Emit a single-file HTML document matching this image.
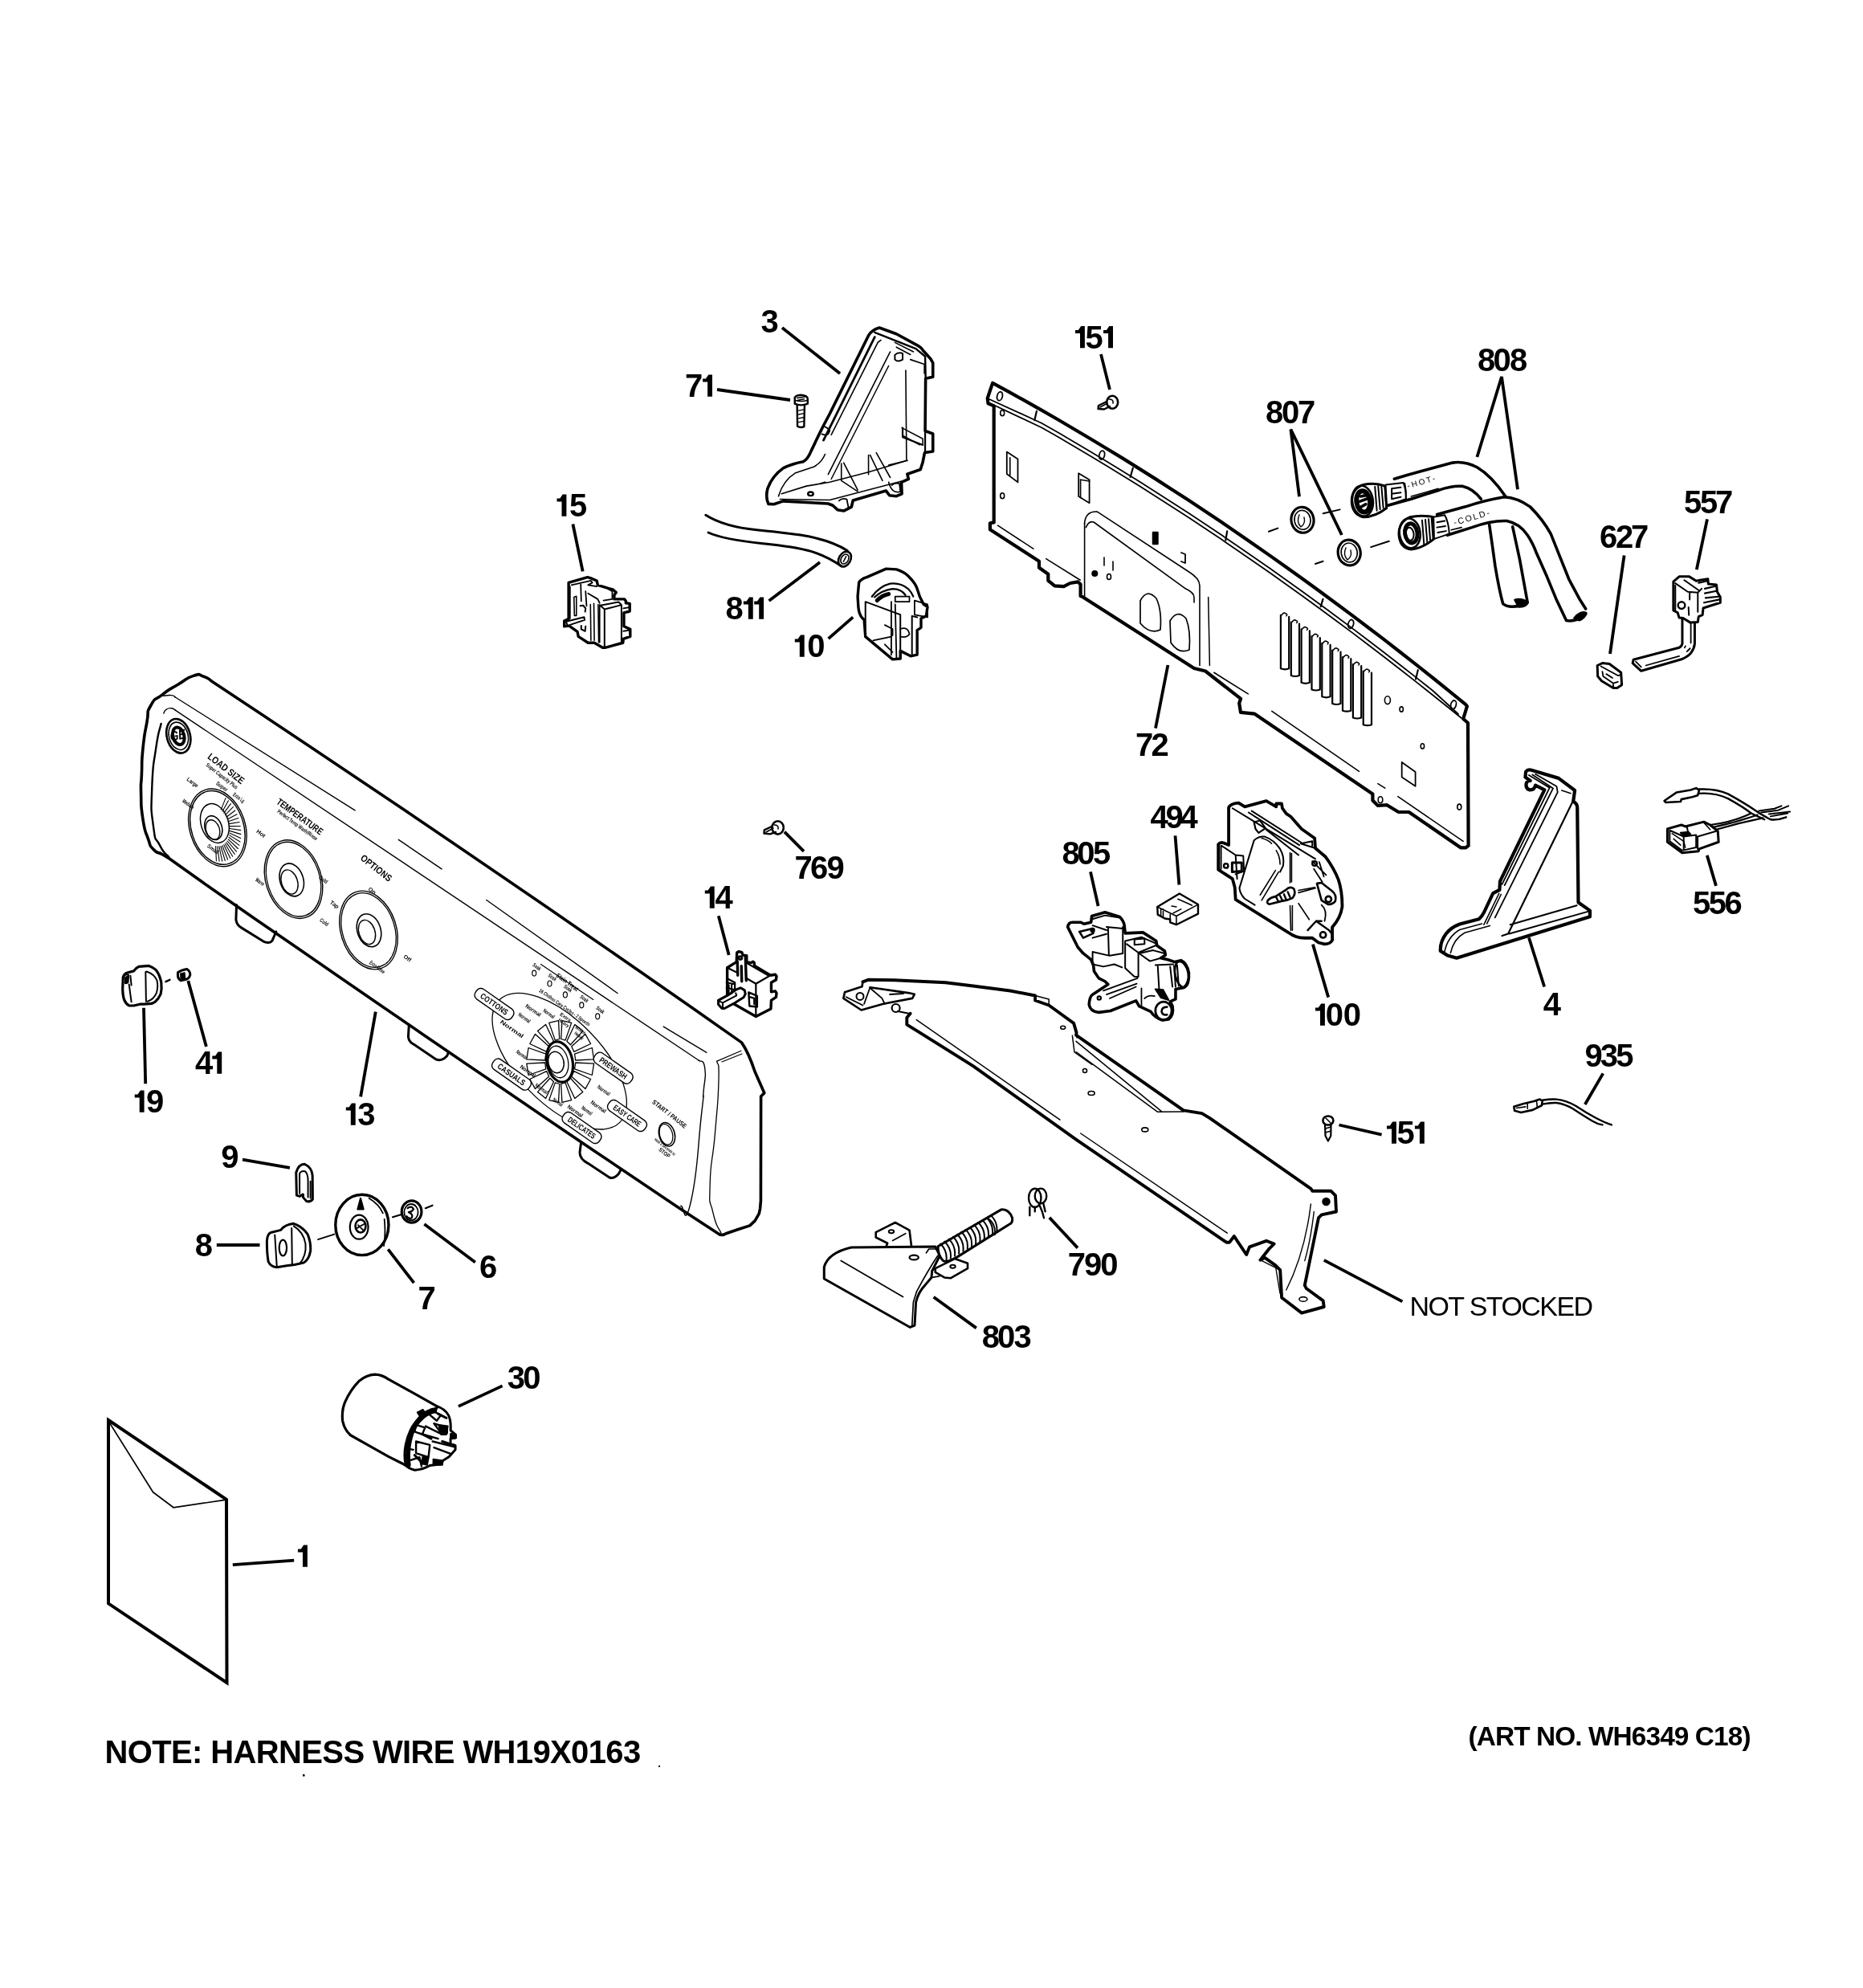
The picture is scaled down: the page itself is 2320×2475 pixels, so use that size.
<!DOCTYPE html>
<html><head><meta charset="utf-8"><style>
html,body{margin:0;padding:0;background:#fff;}
svg{display:block;filter:grayscale(1);}
text{font-family:"Liberation Sans",sans-serif;fill:#000;}
.p path,.p line,.p polyline,.p polygon,.p ellipse,.p circle,.p rect{vector-effect:non-scaling-stroke;}
</style></head><body>
<svg width="2320" height="2475" viewBox="0 0 2320 2475" xmlns="http://www.w3.org/2000/svg">
<rect width="2320" height="2475" fill="#fff"/>
<g class="p" fill="none" stroke="#000" stroke-width="2.5" stroke-linejoin="round" stroke-linecap="round">
<!-- 01_env.svg --><g transform="translate(0 0) scale(1.000000)"><path d="M135,1768 L282,1866.8 L282.5,2095 L135,1996.3 Z" stroke-width="4" stroke-linejoin="miter"/>
<path d="M137.2,1772.6 L190.6,1857.8 L216,1876.8 L280.3,1867.4" stroke-width="1.7"/>
</g>
<!-- 03_bracket.svg --><g transform="translate(840 380) scale(0.193237)"><path d="M605,1280 Q585,1240 600,1180 Q630,1100 700,1050 Q760,1020 830,1008 Q860,990 880,940 L930,835 L960,775 L1000,700 L1250,195 Q1270,160 1320,145 L1430,185 L1545,248 Q1590,270 1600,290 L1650,345 L1665,372 L1665,462 L1618,472 L1615,810 L1665,828 L1665,942 L1612,950 L1600,1010 L1585,1058 L1500,1088 L1508,1120 L1462,1140 L1465,1215 L1430,1230 L1385,1225 L1362,1195 L1150,1258 L1140,1300 L1090,1325 L1050,1318 L1020,1290 L990,1278 L700,1262 L640,1282 Z" stroke-width="3.6"/>
<path d="M1290,205 L1000,790 L960,870" stroke-width="2.8"/>
<path d="M1330,225 Q1320,230 1310,240 L1010,835" stroke-width="1.6"/>
<path d="M1390,300 L990,1090" stroke-width="1.6"/>
<path d="M1380,390 L1010,1120" stroke-width="1.4"/>
<path d="M1290,175 L1555,280 L1615,330 L1618,460" stroke-width="2.4"/>
<path d="M1615,815 L1615,940 M1470,790 L1470,850 L1600,900" stroke-width="2.2"/>
<path d="M1420,240 L1540,300 M1430,270 L1520,318" stroke-width="1.6"/>
<path d="M1420,320 Q1440,300 1470,310 L1470,350 Q1440,370 1420,350 Z" stroke-width="2"/>
<path d="M1490,420 L1495,1000 M1520,350 L1610,380 L1610,440" stroke-width="1.6"/>
<path d="M1465,790 L1600,860 L1600,900 M1470,840 L1580,900" stroke-width="1.6"/>
<path d="M670,1230 Q700,1130 780,1080 L900,1040 Q950,1010 970,960" stroke-width="1.6"/>
<path d="M690,1215 L850,1165 L1000,1140 L1250,1075 L1500,1000" stroke-width="1.6"/>
<path d="M680,1250 L1000,1255 L1460,1135" stroke-width="1.6"/>
<path d="M1075,1020 L1075,1130 L1180,1200 M1090,1015 L1180,1190" stroke-width="1.6"/>
<path d="M1250,965 L1250,1090 M1260,965 L1340,1130 M1300,950 L1390,1110" stroke-width="1.6"/>
<path d="M1380,1030 L1500,1000 M1380,1140 Q1400,1220 1460,1200" stroke-width="1.6"/>
<path d="M1060,1260 Q1080,1240 1110,1250 L1120,1300 M1400,1160 Q1420,1140 1450,1150 L1455,1200" stroke-width="1.8"/>
<ellipse cx="877" cy="1215" rx="17" ry="12" stroke-width="2.4"/>
<path d="M940,1150 L970,1140 M960,780 Q990,790 1000,810 L990,830 Q970,840 950,830" stroke-width="1.8"/>
</g>
<!-- 04_bracket.svg --><g transform="translate(1780 950) scale(0.125755)"><path d="M955,85 Q975,60 1010,70 L1280,150 L1440,270 L1425,380 Q1465,400 1465,440 L1475,1380 L1590,1460 L1590,1520 L270,1930 L180,1905 L110,1860 Q105,1770 165,1690 Q210,1630 300,1595 L490,1545 Q520,1520 540,1480 L630,1290 L695,1255 L700,1170 L1140,265 L1050,220 Q1040,270 990,265 Q950,250 960,200 Q970,170 1000,175 L950,140 Z" stroke-width="4.2"/>
<path d="M985,120 L1190,245 L720,1200 M1020,115 L1225,250 L745,1210 M1050,110 L1260,230 L1270,290 L650,1530" stroke-width="1.8"/>
<path d="M690,1290 L540,1600 M710,1300 L570,1590" stroke-width="1.6"/>
<path d="M1420,380 L780,1690 L720,1710" stroke-width="2.2"/>
<path d="M800,1600 L1460,1410 M790,1690 L1570,1470" stroke-width="2"/>
<path d="M150,1870 Q180,1720 300,1650 L520,1590 M210,1880 Q240,1740 350,1680 L600,1610" stroke-width="1.6"/>
<path d="M1310,270 L1400,300" stroke-width="1.6"/>
</g>
<!-- 100_timer.svg --><g transform="translate(1510 990) scale(0.095557)"><path d="M210,160 Q230,110 340,100 L420,150 L700,75 L830,150 L830,110 L900,110 L910,170 L960,240 L1020,280 L1160,440 L1330,560 L1340,690 L1470,800 Q1580,950 1640,1100 Q1690,1250 1690,1450 Q1670,1600 1560,1720 L1560,1890 Q1530,1940 1460,1940 L1380,1920 L1300,1860 L1200,1860 Q1080,1860 990,1790 L300,1360 L290,1200 L260,1090 L75,970 L75,640 Q100,610 140,620 L210,650 Z" stroke-width="3.8"/>
<path d="M260,170 L1340,830 M470,225 L1130,650 M510,205 L1160,620 M700,450 L1120,780" stroke-width="2"/>
<path d="M120,660 L300,780 L400,790 L410,990 L300,1030 M300,780 L320,1090 M110,660 L110,960" stroke-width="2"/>
<path d="M255,880 L255,1000 L380,990 L380,880 Z" stroke-width="3"/>
<circle cx="175" cy="920" r="28" stroke-width="2.4"/>
<path d="M540,590 Q600,530 680,540 Q800,580 880,700 Q940,800 920,920 L880,1000 M540,590 L350,1210 Q360,1290 420,1350 L550,1430" stroke-width="2"/>
<path d="M640,560 Q720,580 770,630 M830,720 Q880,800 880,900 M820,980 L620,1300 M860,1000 L640,1370" stroke-width="1.6"/>
<path d="M1150,630 L1340,690 M1150,630 L1300,600 L1300,660" stroke-width="2"/>
<path d="M720,1370 Q760,1330 820,1320 L960,1230 Q1010,1180 1060,1220 Q1090,1290 1040,1340 Q980,1370 900,1380 L740,1420 Q700,1410 720,1370 Z" stroke-width="2.6"/>
<path d="M830,1330 L860,1390 M880,1310 L910,1370 M930,1290 L960,1360 M980,1260 L1010,1330" stroke-width="2.4"/>
<path d="M1120,1270 L1340,1210 M1120,1240 L1330,1200 M1010,750 L1010,1140 M1030,760 L1030,1130 M1010,1440 L1020,1760 M1040,1440 L1040,1760 M1120,1410 L1260,1620" stroke-width="1.6"/>
<path d="M1360,1150 L1420,1140 L1560,1250 Q1620,1300 1600,1380 Q1560,1430 1500,1420 L1420,1370 Z" stroke-width="2.6"/>
<circle cx="1510" cy="1355" r="38" stroke-width="2.6"/>
<path d="M1240,1760 L1350,1640 L1520,1760 L1550,1800 M1350,1640 L1420,1640" stroke-width="2.4"/>
<circle cx="1440" cy="1820" r="38" stroke-width="2.6"/>
<path d="M1300,860 L1480,1040 M1390,870 L1450,1060 M1320,960 L1430,1130" stroke-width="1.8"/>
<circle cx="1330" cy="890" r="30" stroke-width="2.4"/>
<path d="M540,350 L620,330 L690,430 L600,490 L560,440 Z" stroke-width="2.2"/>
<path d="M1420,1430 Q1500,1500 1460,1640" stroke-width="1.8"/>
</g>
<!-- 10_pswitch.svg --><g transform="translate(870 630) scale(0.161031)"><path d="M1240,590 Q1260,560 1300,550 L1450,485 L1530,490 Q1590,510 1620,540 Q1680,600 1690,640 L1710,700 L1740,760 L1770,780 L1760,850 L1720,870 L1720,940 L1690,960 L1690,1150 L1640,1160 L1560,1120 L1560,1180 L1500,1185 L1290,1010 L1280,880 Q1240,850 1235,780 L1230,700 Z" stroke-width="3.4"/>
<path d="M1290,740 L1560,840 L1560,1180 M1290,740 L1290,1000 M1650,850 L1690,860 M1650,850 L1650,1160" stroke-width="2"/>
<path d="M1340,700 Q1400,620 1480,600 Q1560,590 1620,640 Q1650,670 1660,700 M1360,705 Q1420,650 1500,640 Q1570,640 1600,690" stroke-width="2.2"/>
<path d="M1380,730 Q1420,690 1470,680" stroke-width="5"/>
<path d="M1520,700 L1630,700 L1630,740 L1520,740 Z M1670,730 L1770,760 L1770,860 L1670,840 Z M1490,740 L1490,1150 M1520,760 L1530,1170" stroke-width="1.8"/>
<path d="M1440,920 L1500,950 L1500,1000 M1560,950 Q1620,930 1630,990 Q1610,1020 1560,1010 M1350,1040 L1490,1010 M1440,1070 L1500,1130" stroke-width="1.8"/>
</g>
<!-- 13_ctrl.svg --><g transform="translate(0 0) scale(1.000000)"><path d="M210.3,1068.5 C207.6,1066.9 208.7,1067.5 202.2,1063.7 C195.7,1059.9 196.8,1063.7 190.9,1057.2 C185.0,1050.7 188.8,1056.6 184.5,1044.3 C180.2,1032.0 181.0,1039.0 178.0,1020.2 C175.0,1001.4 176.1,1006.8 175.6,988.0 C175.1,969.2 175.6,982.6 176.4,963.8 C177.2,945.0 175.8,953.1 178.0,931.6 C180.2,910.1 179.7,917.1 182.9,899.4 C186.1,881.7 181.3,890.0 187.7,878.5 C194.1,867.0 190.8,873.6 202.2,864.8 C213.6,856.0 209.1,859.8 222.0,852.0 C234.9,844.2 230.3,844.7 240.9,841.4 C251.5,838.1 246.2,840.0 253.7,842.2 C261.2,844.4 260.2,846.0 263.4,847.9 L323.4,887.7 L383.4,927.7 L443.4,967.9 L503.4,1008.3 L563.4,1049.0 L623.5,1089.9 L683.5,1131.0 L743.5,1172.4 L803.5,1214.0 L863.5,1255.8 L923.5,1297.9 Q932,1310 940,1334 L951.8,1360.8 L947.6,1365.1 L947.4,1495 L946.6,1504.5 L945.3,1510.9 L940.1,1519.9 L933.7,1525.9 L918.6,1530.7 L904,1535.8 L900.2,1537.5 L896.3,1537.1 L843.5,1502.5 L790.8,1467.0 L738.0,1431.4 L685.2,1395.7 L632.5,1359.8 L579.7,1323.9 L526.9,1287.9 L474.1,1251.7 L421.4,1215.5 L368.6,1179.1 L315.8,1142.7 L263.1,1106.1 Z" stroke-width="3.6"/>
<path d="M200.6,901.0 C198.5,911.2 198.0,905.3 194.2,931.6 C190.4,957.9 190.4,947.7 189.3,979.9 C188.2,1012.1 187.7,1004.0 190.9,1028.2 C194.1,1052.4 192.5,1039.5 199.0,1052.4 C205.5,1065.3 206.5,1062.1 210.3,1066.9" stroke-width="2.4"/>
<path d="M203.0,866.4 C206.5,866.1 208.4,865.1 213.5,865.6 C218.6,866.1 216.7,867.2 218.3,868.0" stroke-width="1.4"/><path d="M218.3,868.0 L442.1,1008.9" stroke-width="1.4"/>
<path d="M496.3,1045.4 L550.0,1081.9" stroke-width="1.4"/>
<path d="M605.8,1120.5 L769.0,1236.5" stroke-width="1.4"/>
<path d="M826.2,1278.1 L879.9,1310.4" stroke-width="1.4"/>
<path d="M203.8,888.1 C204.9,886.5 203.8,885.4 207.0,883.3 C210.2,881.2 209.7,881.4 213.5,881.7 C217.3,882.0 216.7,883.3 218.3,884.1" stroke-width="1.4"/><path d="M218.3,884.1 L870.0,1320.0" stroke-width="1.4"/>
<path d="M870.0,1320.0 C872.6,1323.3 875.8,1316.7 877.8,1330.0 C879.8,1343.3 877.4,1340.8 876.0,1360.0 C874.6,1379.2 878.6,1342.7 873.5,1387.7 C868.4,1432.7 869.2,1457.1 860.6,1495.0 C852.0,1532.9 852.0,1499.3 847.7,1501.4" stroke-width="1.4"/>
<path d="M892.8,1321.1 C893.5,1329.0 895.7,1315.4 895.0,1344.7 C894.3,1374.0 894.2,1366.2 890.6,1409.1 C887.0,1452.0 885.1,1439.9 884.2,1473.5 C883.3,1507.1 883.3,1489.2 888.0,1510.0 C892.7,1530.8 894.8,1527.2 898.2,1535.8" stroke-width="1.3"/>
<path d="M892.8,1321.1 L922.9,1308.2" stroke-width="1.2"/><path d="M899.0,1322.0 L924.0,1312.0" stroke-width="1.2"/>
<path d="M294.5,1126.5 L293.9,1145.3 Q295,1152 300.4,1154.9 L329.3,1172.7 Q336,1175 339,1171.1 L343.8,1160" stroke-width="3"/>
<path d="M509.3,1275.9 L508.4,1290.9 Q509,1297 515.1,1300.1 L543.1,1318.9 Q550,1322 556.7,1314.6 L558.6,1309.8" stroke-width="3"/>
<path d="M723.6,1422.5 L722,1434.9 Q722,1443 732.2,1448.3 L759,1466 Q765,1468 770.9,1460.7 L773.5,1455.3" stroke-width="3"/>
<ellipse cx="222.3" cy="916.3" rx="14.5" ry="21.7" transform="rotate(-15 222.3 916.3)" stroke-width="2.6"/>
<ellipse cx="222.3" cy="916.3" rx="11.8" ry="17.5" transform="rotate(-15 222.3 916.3)" stroke-width="1.6"/>
<ellipse cx="222.3" cy="916.3" rx="7.0" ry="11.0" transform="rotate(-15 222.3 916.3)" stroke-width="4"/>
<text transform="translate(222.3 921) rotate(-10) scale(0.8 1)" text-anchor="middle" font-size="17" font-weight="bold" font-style="italic" stroke="none" fill="#000">GE</text>
<ellipse cx="270.9" cy="1030.4" rx="34.5" ry="49.5" transform="rotate(-18 270.9 1030.4)" stroke-width="1.4"/>
<ellipse cx="270.9" cy="1030.4" rx="32.5" ry="47.0" transform="rotate(-18 270.9 1030.4)" stroke-width="1.4"/>
<ellipse cx="267.4" cy="1025.0" rx="17.0" ry="25.0" transform="rotate(-18 267.4 1025.0)" stroke-width="1.5"/>
<ellipse cx="265.8" cy="1030.6" rx="10.5" ry="15.3" transform="rotate(-18 265.8 1030.6)" stroke-width="1.6"/>
<ellipse cx="265.0" cy="1033.0" rx="8.4" ry="12.6" transform="rotate(-18 265.0 1033.0)" stroke-width="1.4"/>
<path d="M275.2,1008.1 L281.0,993.6 M277.1,1010.1 L284.4,996.8 M278.9,1012.2 L287.4,1000.6 M280.5,1014.6 L290.3,1004.6 M282.0,1017.2 L292.8,1009.0 M283.3,1019.9 L295.0,1013.7 M284.3,1022.7 L296.8,1018.5 M285.2,1025.6 L298.2,1023.5 M285.8,1028.6 L299.2,1028.5 M286.1,1031.5 L299.8,1033.6 M286.2,1034.4 L300.0,1038.6 M286.1,1037.2 L299.7,1043.4 M285.7,1039.9 L299.0,1048.0 M285.1,1042.5 L297.9,1052.4 M284.2,1044.8 L296.4,1056.5 M283.1,1047.0 L294.5,1060.2 M281.8,1048.9 L292.2,1063.4 M280.3,1050.5 L289.7,1066.2 M278.7,1051.8 L286.8,1068.5 M276.8,1052.8 L283.6,1070.3 M274.9,1053.5 L280.3,1071.5 M272.9,1053.9 L276.7,1072.1 M270.8,1053.9 L273.1,1072.2 M268.6,1053.6 L269.4,1071.7" stroke-width="1.1"/>
<ellipse cx="365.5" cy="1094.6" rx="34.5" ry="50.0" transform="rotate(-18 365.5 1094.6)" stroke-width="1.4"/>
<ellipse cx="365.5" cy="1094.6" rx="32.5" ry="47.5" transform="rotate(-18 365.5 1094.6)" stroke-width="1.3"/>
<ellipse cx="363.2" cy="1095.4" rx="14.5" ry="21.0" transform="rotate(-18 363.2 1095.4)" stroke-width="1.6"/>
<ellipse cx="360.5" cy="1098.0" rx="10.0" ry="15.5" transform="rotate(-18 360.5 1098.0)" stroke-width="1.4"/>
<ellipse cx="459.0" cy="1158.0" rx="34.5" ry="50.0" transform="rotate(-18 459.0 1158.0)" stroke-width="1.4"/>
<ellipse cx="459.0" cy="1158.0" rx="32.5" ry="47.5" transform="rotate(-18 459.0 1158.0)" stroke-width="1.3"/>
<ellipse cx="459.5" cy="1158.2" rx="14.5" ry="21.0" transform="rotate(-18 459.5 1158.2)" stroke-width="1.6"/>
<ellipse cx="457.0" cy="1160.5" rx="10.0" ry="15.5" transform="rotate(-18 457.0 1160.5)" stroke-width="1.4"/>
<ellipse cx="696.7" cy="1321.2" rx="107.0" ry="52.4" transform="rotate(45.6 696.7 1321.2)" stroke-width="1.3"/>
<path d="M716.7,1323.0 L739.6,1324.2 L737.3,1338.5 L715.6,1330.8Z M714.8,1333.6 L735.6,1343.5 L728.9,1355.6 L711.8,1340.2Z M710.4,1342.3 L725.8,1359.4 L715.8,1367.5 L705.9,1346.8Z M704.0,1347.9 L711.7,1369.6 L699.9,1372.4 L698.7,1349.5Z M696.7,1349.5 L695.5,1372.4 L683.7,1369.6 L691.4,1347.9Z M689.5,1346.8 L679.6,1367.5 L669.6,1359.4 L685.0,1342.3Z M683.6,1340.2 L666.5,1355.6 L659.8,1343.5 L680.6,1333.6Z M679.8,1330.8 L658.1,1338.5 L655.8,1324.2 L678.7,1323.0Z M678.7,1320.0 L655.8,1318.8 L658.1,1304.5 L679.8,1312.2Z M680.6,1309.4 L659.8,1299.5 L666.5,1287.4 L683.6,1302.8Z M685.0,1300.7 L669.6,1283.6 L679.6,1275.5 L689.5,1296.2Z M691.4,1295.1 L683.7,1273.4 L695.5,1270.6 L696.7,1293.5Z M698.7,1293.5 L699.9,1270.6 L711.7,1273.4 L704.0,1295.1Z M705.9,1296.2 L715.8,1275.5 L725.8,1283.6 L710.4,1300.7Z M711.8,1302.8 L728.9,1287.4 L735.6,1299.5 L714.8,1309.4Z M715.6,1312.2 L737.3,1304.5 L739.6,1318.8 L716.7,1320.0Z" stroke-width="1.3"/>
<ellipse cx="697.0" cy="1322.0" rx="16.0" ry="25.5" transform="rotate(-12 697.0 1322.0)" stroke-width="3.2"/>
<ellipse cx="695.0" cy="1322.0" rx="12.5" ry="20.0" transform="rotate(-12 695.0 1322.0)" stroke-width="1.3"/>
<ellipse cx="692.4" cy="1322.5" rx="9.7" ry="13.4" transform="rotate(-12 692.4 1322.5)" stroke-width="1.5"/>
<g transform="translate(615.5 1250) rotate(35)"><rect x="-27.5" y="-7.5" width="55" height="15" rx="6.0" stroke-width="1.4" fill="#fff"/><text x="0" y="3.5" text-anchor="middle" font-size="10" font-weight="bold" stroke="none" fill="#000" textLength="39.6" lengthAdjust="spacingAndGlyphs">COTTONS</text></g>
<g transform="translate(637 1337.6) rotate(35)"><rect x="-27.5" y="-7.5" width="55" height="15" rx="6.0" stroke-width="1.4" fill="#fff"/><text x="0" y="3.5" text-anchor="middle" font-size="10" font-weight="bold" stroke="none" fill="#000" textLength="39.6" lengthAdjust="spacingAndGlyphs">CASUALS</text></g>
<g transform="translate(724.5 1404) rotate(35)"><rect x="-27.5" y="-7.5" width="55" height="15" rx="6.0" stroke-width="1.4" fill="#fff"/><text x="0" y="3.5" text-anchor="middle" font-size="10" font-weight="bold" stroke="none" fill="#000" textLength="39.6" lengthAdjust="spacingAndGlyphs">DELICATES</text></g>
<g transform="translate(763.7 1329.7) rotate(35)"><rect x="-27.5" y="-7.5" width="55" height="15" rx="6.0" stroke-width="1.4" fill="#fff"/><text x="0" y="3.5" text-anchor="middle" font-size="10" font-weight="bold" stroke="none" fill="#000" textLength="39.6" lengthAdjust="spacingAndGlyphs">PREWASH</text></g>
<g transform="translate(781 1389) rotate(35)"><rect x="-27.5" y="-7.5" width="55" height="15" rx="6.0" stroke-width="1.4" fill="#fff"/><text x="0" y="3.5" text-anchor="middle" font-size="10" font-weight="bold" stroke="none" fill="#000" textLength="39.6" lengthAdjust="spacingAndGlyphs">EASY CARE</text></g>
<ellipse cx="830.5" cy="1412.3" rx="9.7" ry="15.0" transform="rotate(-15 830.5 1412.3)" stroke-width="1.6"/>
<ellipse cx="829.5" cy="1412.3" rx="8.0" ry="13.0" transform="rotate(-15 829.5 1412.3)" stroke-width="1.2"/>
<ellipse cx="665.2" cy="1211.6" rx="2.5" ry="3.5" transform="rotate(0 665.2 1211.6)" stroke-width="1.2"/>
<ellipse cx="684.5" cy="1224.5" rx="2.5" ry="3.5" transform="rotate(0 684.5 1224.5)" stroke-width="1.2"/>
<ellipse cx="703.9" cy="1238.4" rx="2.5" ry="3.5" transform="rotate(0 703.9 1238.4)" stroke-width="1.2"/>
<ellipse cx="724.3" cy="1251.3" rx="2.5" ry="3.5" transform="rotate(0 724.3 1251.3)" stroke-width="1.2"/>
<ellipse cx="744.2" cy="1265.3" rx="2.5" ry="3.5" transform="rotate(0 744.2 1265.3)" stroke-width="1.2"/>
<path d="M673.5,1200.6 L738.8,1244.4" stroke-width="1.2"/>
<text transform="translate(279 960) rotate(38)" x="0" y="0" text-anchor="middle" font-size="12" font-weight="bold" stroke="none" fill="#000" textLength="54" lengthAdjust="spacingAndGlyphs">LOAD SIZE</text>
<text transform="translate(275 968) rotate(38)" x="0" y="0" text-anchor="middle" font-size="7" font-weight="bold" stroke="none" fill="#000" textLength="48" lengthAdjust="spacingAndGlyphs">Super Capacity Plus</text>
<text transform="translate(371 1020) rotate(36)" x="0" y="0" text-anchor="middle" font-size="12" font-weight="bold" stroke="none" fill="#000" textLength="68" lengthAdjust="spacingAndGlyphs">TEMPERATURE</text>
<text transform="translate(369 1029) rotate(36)" x="0" y="0" text-anchor="middle" font-size="7" font-weight="bold" stroke="none" fill="#000" textLength="60" lengthAdjust="spacingAndGlyphs">Perfect Temp Wash/Rinse</text>
<text transform="translate(466 1084) rotate(38)" x="0" y="0" text-anchor="middle" font-size="12" font-weight="bold" stroke="none" fill="#000" textLength="46" lengthAdjust="spacingAndGlyphs">OPTIONS</text>
<text transform="translate(832 1389) rotate(38)" x="0" y="0" text-anchor="middle" font-size="8" font-weight="bold" stroke="none" fill="#000" textLength="52" lengthAdjust="spacingAndGlyphs">START / PAUSE</text>
<text transform="translate(826 1437) rotate(38)" x="0" y="0" text-anchor="middle" font-size="7" font-weight="bold" stroke="none" fill="#000" textLength="16" lengthAdjust="spacingAndGlyphs">STOP</text>
<text transform="translate(827 1429) rotate(38)" x="0" y="0" text-anchor="middle" font-size="5" font-weight="bold" stroke="none" fill="#000" textLength="32" lengthAdjust="spacingAndGlyphs">Hold 3 Seconds to</text>
<text transform="translate(238.5 976) rotate(36)" x="0" y="0" text-anchor="middle" font-size="7" font-weight="bold" stroke="none" fill="#000" textLength="16" lengthAdjust="spacingAndGlyphs">Large</text>
<text transform="translate(275 981) rotate(36)" x="0" y="0" text-anchor="middle" font-size="7" font-weight="bold" stroke="none" fill="#000" textLength="16" lengthAdjust="spacingAndGlyphs">Super</text>
<text transform="translate(296 995) rotate(36)" x="0" y="0" text-anchor="middle" font-size="7" font-weight="bold" stroke="none" fill="#000" textLength="16" lengthAdjust="spacingAndGlyphs">Extra Lg</text>
<text transform="translate(233 1003) rotate(36)" x="0" y="0" text-anchor="middle" font-size="7" font-weight="bold" stroke="none" fill="#000" textLength="16" lengthAdjust="spacingAndGlyphs">Medium</text>
<text transform="translate(264 1059) rotate(36)" x="0" y="0" text-anchor="middle" font-size="7" font-weight="bold" stroke="none" fill="#000" textLength="16" lengthAdjust="spacingAndGlyphs">Small</text>
<text transform="translate(323.6 1039.6) rotate(36)" x="0" y="0" text-anchor="middle" font-size="7" font-weight="bold" stroke="none" fill="#000" textLength="12" lengthAdjust="spacingAndGlyphs">Hot</text>
<text transform="translate(322.3 1099.7) rotate(36)" x="0" y="0" text-anchor="middle" font-size="7" font-weight="bold" stroke="none" fill="#000" textLength="12" lengthAdjust="spacingAndGlyphs">Warm</text>
<text transform="translate(401.3 1097) rotate(36)" x="0" y="0" text-anchor="middle" font-size="7" font-weight="bold" stroke="none" fill="#000" textLength="12" lengthAdjust="spacingAndGlyphs">Cold</text>
<text transform="translate(415.2 1128) rotate(36)" x="0" y="0" text-anchor="middle" font-size="7" font-weight="bold" stroke="none" fill="#000" textLength="12" lengthAdjust="spacingAndGlyphs">Tap</text>
<text transform="translate(402.3 1150) rotate(36)" x="0" y="0" text-anchor="middle" font-size="7" font-weight="bold" stroke="none" fill="#000" textLength="12" lengthAdjust="spacingAndGlyphs">Cold</text>
<text transform="translate(462 1111) rotate(36)" x="0" y="0" text-anchor="middle" font-size="7" font-weight="bold" stroke="none" fill="#000" textLength="10" lengthAdjust="spacingAndGlyphs">On</text>
<text transform="translate(506 1195) rotate(36)" x="0" y="0" text-anchor="middle" font-size="7" font-weight="bold" stroke="none" fill="#000" textLength="10" lengthAdjust="spacingAndGlyphs">Off</text>
<text transform="translate(468.4 1206) rotate(36)" x="0" y="0" text-anchor="middle" font-size="7" font-weight="bold" stroke="none" fill="#000" textLength="22" lengthAdjust="spacingAndGlyphs">Extra Rinse</text>
<text transform="translate(662.8 1259.8) rotate(35)" x="0" y="0" text-anchor="middle" font-size="7" font-weight="bold" stroke="none" fill="#000" textLength="22" lengthAdjust="spacingAndGlyphs">Normal</text>
<text transform="translate(651.7 1269.2) rotate(35)" x="0" y="0" text-anchor="middle" font-size="7" font-weight="bold" stroke="none" fill="#000" textLength="17" lengthAdjust="spacingAndGlyphs">Normal</text>
<text transform="translate(682.3 1263.9) rotate(35)" x="0" y="0" text-anchor="middle" font-size="7" font-weight="bold" stroke="none" fill="#000" textLength="16" lengthAdjust="spacingAndGlyphs">Normal</text>
<text transform="translate(636.2 1282.9) rotate(35)" x="0" y="0" text-anchor="middle" font-size="7" font-weight="bold" stroke="none" fill="#000" textLength="34" lengthAdjust="spacingAndGlyphs">Normal</text>
<text transform="translate(648.3 1314.9) rotate(35)" x="0" y="0" text-anchor="middle" font-size="7" font-weight="bold" stroke="none" fill="#000" textLength="15" lengthAdjust="spacingAndGlyphs">Normal</text>
<text transform="translate(656 1335.5) rotate(35)" x="0" y="0" text-anchor="middle" font-size="7" font-weight="bold" stroke="none" fill="#000" textLength="22" lengthAdjust="spacingAndGlyphs">Normal</text>
<text transform="translate(673 1357.3) rotate(35)" x="0" y="0" text-anchor="middle" font-size="7" font-weight="bold" stroke="none" fill="#000" textLength="18" lengthAdjust="spacingAndGlyphs">Normal</text>
<text transform="translate(693.4 1373.9) rotate(35)" x="0" y="0" text-anchor="middle" font-size="7" font-weight="bold" stroke="none" fill="#000" textLength="14" lengthAdjust="spacingAndGlyphs">Normal</text>
<text transform="translate(714.9 1385.2) rotate(35)" x="0" y="0" text-anchor="middle" font-size="7" font-weight="bold" stroke="none" fill="#000" textLength="22" lengthAdjust="spacingAndGlyphs">Normal</text>
<text transform="translate(729.6 1384.6) rotate(35)" x="0" y="0" text-anchor="middle" font-size="7" font-weight="bold" stroke="none" fill="#000" textLength="15" lengthAdjust="spacingAndGlyphs">Normal</text>
<text transform="translate(743.9 1379.8) rotate(35)" x="0" y="0" text-anchor="middle" font-size="7" font-weight="bold" stroke="none" fill="#000" textLength="22" lengthAdjust="spacingAndGlyphs">Normal</text>
<text transform="translate(750.5 1359.4) rotate(35)" x="0" y="0" text-anchor="middle" font-size="7" font-weight="bold" stroke="none" fill="#000" textLength="18" lengthAdjust="spacingAndGlyphs">Normal</text>
<text transform="translate(703 1268) rotate(35)" x="0" y="0" text-anchor="middle" font-size="6" font-weight="bold" stroke="none" fill="#000" textLength="15" lengthAdjust="spacingAndGlyphs">Extra</text>
<text transform="translate(701 1275) rotate(35)" x="0" y="0" text-anchor="middle" font-size="6" font-weight="bold" stroke="none" fill="#000" textLength="15" lengthAdjust="spacingAndGlyphs">Heavy</text>
<text transform="translate(721.8 1284) rotate(35)" x="0" y="0" text-anchor="middle" font-size="6" font-weight="bold" stroke="none" fill="#000" textLength="15" lengthAdjust="spacingAndGlyphs">Whites</text>
<text transform="translate(720 1291) rotate(35)" x="0" y="0" text-anchor="middle" font-size="6" font-weight="bold" stroke="none" fill="#000" textLength="13" lengthAdjust="spacingAndGlyphs">Heavy</text>
<text transform="translate(702 1256) rotate(35)" x="0" y="0" text-anchor="middle" font-size="6.5" font-weight="bold" stroke="none" fill="#000" textLength="76" lengthAdjust="spacingAndGlyphs">16 Clothes Care Cycles - 2 Speeds</text>
<text transform="translate(667.2 1205.6) rotate(36)" x="0" y="0" text-anchor="middle" font-size="7" font-weight="bold" stroke="none" fill="#000" textLength="11" lengthAdjust="spacingAndGlyphs">Soak</text>
<text transform="translate(686.5 1218.5) rotate(36)" x="0" y="0" text-anchor="middle" font-size="7" font-weight="bold" stroke="none" fill="#000" textLength="11" lengthAdjust="spacingAndGlyphs">Soak</text>
<text transform="translate(705.9 1232.4) rotate(36)" x="0" y="0" text-anchor="middle" font-size="7" font-weight="bold" stroke="none" fill="#000" textLength="11" lengthAdjust="spacingAndGlyphs">Soak</text>
<text transform="translate(726.3 1245.3) rotate(36)" x="0" y="0" text-anchor="middle" font-size="7" font-weight="bold" stroke="none" fill="#000" textLength="11" lengthAdjust="spacingAndGlyphs">Soak</text>
<text transform="translate(746.2 1259.3) rotate(36)" x="0" y="0" text-anchor="middle" font-size="7" font-weight="bold" stroke="none" fill="#000" textLength="11" lengthAdjust="spacingAndGlyphs">Soak</text>
<text transform="translate(705 1225) rotate(36)" x="0" y="0" text-anchor="middle" font-size="8" font-weight="bold" stroke="none" fill="#000" textLength="32" lengthAdjust="spacingAndGlyphs">Stain Treat</text></g>
<!-- 14_switch.svg --><g transform="translate(885 1175) scale(0.050302)"><path d="M410,590 L640,450 L650,220 L700,190 L770,210 L800,280 L890,290 L890,450 L1000,470 L1050,440 L1080,470 L1080,540 L1480,780 L1600,760 L1630,800 L1620,890 L1500,960 L1500,1190 L1600,1170 L1630,1220 L1620,1320 L1500,1400 L1490,1610 L1120,1800 L580,1490 L420,1270 L410,1260 Z" stroke-width="3.4"/>
<path d="M1120,980 L1120,1800 M880,850 L1120,990 L1480,780 M430,600 L630,700 M880,470 L1440,790 M410,860 L600,960 L600,1240" stroke-width="2.2"/>
<path d="M660,430 L670,780 M760,550 L770,930 M860,300 L880,910" stroke-width="3.4"/>
<circle cx="735" cy="350" r="40" stroke-width="2.6"/>
<path d="M190,1400 L190,1500 L280,1600 L340,1600 L570,1480 L820,1320 L860,1240 L840,1150 L740,1090 L640,1130 L430,1270 Z" stroke-width="3" fill="#fff"/>
<path d="M230,1430 L300,1460 L300,1600 M300,1460 L640,1280 L620,1220" stroke-width="2"/>
<path d="M940,1200 L1150,1290 L1150,1560 L960,1540 Z M980,1320 L1080,1350 L1080,1490" stroke-width="2.4"/>
<path d="M390,960 L600,1000 M390,1100 L600,1130 M450,1020 L450,1230 M520,1020 L520,1230" stroke-width="2"/>
</g>
<!-- 15_switch.svg --><g transform="translate(690 700) scale(0.060386)"><path d="M300,420 L690,310 L760,330 L880,380 L900,470 L1130,540 L1210,560 L1280,620 L1240,680 L1240,760 L1450,760 L1480,800 L1480,840 L1560,850 L1560,1010 L1440,1040 L1440,1320 L1570,1380 L1570,1530 L1430,1580 L1420,1660 L1050,1760 L1000,1760 L830,1660 L700,1660 L500,1530 L480,1430 L310,1310 L210,1320 L210,1210 L300,1170 Z" stroke-width="3.4"/>
<path d="M1040,970 L1390,880 L1390,1650 M1040,970 L1040,1750 M1040,970 L950,890 L1330,820 L1390,880" stroke-width="2"/>
<path d="M330,500 L330,1160 M410,720 L420,1100 L460,1100 L460,700 Z M750,870 L760,1610 M820,850 L830,1610 M910,870 L920,1650 M940,880 L940,1650" stroke-width="1.6"/>
<path d="M360,470 L760,380 L790,420 L700,470 L880,500 M550,450 L560,800 M650,600 L670,900 M700,640 L900,760 L940,840" stroke-width="1.8"/>
<path d="M220,1230 L620,1130 L630,1190 L330,1290 M250,1240 L280,1300" stroke-width="2"/>
<path d="M540,900 L600,890 L650,950 L640,1020 M560,1310 L560,1380 L640,1420 L650,1320" stroke-width="2"/>
<path d="M1130,560 L1200,600 L1200,740 M1020,790 L1200,760 M1430,1420 L1550,1400 M1430,950 L1550,930" stroke-width="1.8"/>
</g>
<!-- 19_41.svg --><g transform="translate(140 1190) scale(0.059032)"><path d="M215,700 L225,450 Q250,380 300,360 L450,320 Q500,250 560,225 L770,210 Q860,240 920,300 Q1000,400 1030,560 Q1045,700 1020,800 Q980,900 900,970 Q850,1010 780,1010 L660,1020 L580,1020 L450,1050 L350,1050 Q280,1010 250,930 Q220,850 215,700 Z" stroke-width="3.2"/>
<path d="M720,330 Q880,380 940,520 Q970,650 930,780 Q870,920 740,960 M700,340 L710,960 M380,420 L400,620 M350,600 L400,970 M250,420 Q300,380 340,400 L300,580" stroke-width="2"/>
<path d="M270,460 L340,420 L330,560 L270,580 Z" fill="#000" stroke-width="2"/>
<path d="M1125,545 L1210,505" stroke-width="2.4"/>
<path d="M1380,350 Q1450,300 1570,280 Q1640,320 1640,400 Q1620,480 1540,500 L1440,520 Q1380,480 1380,420 Z" stroke-width="3"/>
<path d="M1440,380 L1520,360 L1530,490 L1450,500 Z" fill="#000" stroke-width="2"/>
</g>
<!-- 30_cap.svg --><g transform="translate(415 1700) scale(0.085911)"><path d="M1500,590 L1200,420 L1000,310 L800,200 Q700,130 600,130 Q480,140 380,220 Q250,350 170,530 Q120,650 135,800 Q160,930 250,1010 L500,1150 L800,1320 L1000,1420 L1100,1480" stroke-width="3.2"/>
<path d="M1500,590 Q1620,630 1670,720 Q1710,800 1700,940 L1770,1000 L1770,1050 L1700,1060 L1700,1130 L1770,1160 L1770,1220 L1680,1320 L1570,1390 L1570,1430 L1400,1450 Q1300,1510 1180,1515 Q1090,1500 1050,1440 Q1020,1300 1050,1150 Q1080,1000 1150,880 Q1250,730 1350,670 Q1420,630 1500,620" stroke-width="3"/>
<path d="M1200,860 L1330,900 L1290,1000 L1180,960 Z M1240,980 L1520,1060 M1340,880 L1540,980 M1380,700 L1450,660 L1560,720 L1500,800 Z M1460,840 L1650,900 L1650,980 L1550,960 Z M1200,1100 L1400,1150 L1380,1330 L1200,1270 Z M1460,1190 L1700,1280 M1440,1100 L1760,1180 M1050,1200 L1160,1220 M1130,1370 L1250,1330 L1280,1460" stroke-width="2.4"/>
<path d="M1530,860 L1660,880 L1640,1000 L1560,1000 Z M1300,1310 L1380,1340 L1360,1440 L1280,1420 Z M1450,1360 L1590,1380 L1580,1440 L1450,1440 Z M1700,990 L1780,1000 L1780,1050 L1700,1050 Z M1220,680 L1300,640 L1340,700 L1260,740 Z" fill="#000" stroke-width="2"/>
<path d="M1470,655 Q1260,710 1150,940 Q1060,1180 1090,1440" stroke-width="6" stroke-dasharray="2 2"/>
<path d="M1520,700 L1640,760 M1580,1100 L1700,1140 M1300,1000 L1420,1060 M1180,1300 L1300,1420" stroke-width="3"/>
</g>
<!-- 556_harness.svg --><g transform="translate(2060 970) scale(0.096618)"><path d="M170,640 L350,590 L400,610 L640,550 L720,590 L820,670 L830,810 L580,900 L570,930 L360,950 L170,810 Z" stroke-width="3"/>
<path d="M200,660 L200,800 L360,920 L540,880 L540,720 L380,740 L200,660 M380,740 L380,900 M420,610 L440,700 M560,740 L800,670 M560,740 L560,900" stroke-width="2"/>
<path d="M340,690 L440,680 L470,710 L370,730 Z" fill="#000" stroke-width="2"/>
<path d="M230,700 L380,800 L400,880 M250,770 L340,850 M640,560 L720,650" stroke-width="1.6"/>
<path d="M720,590 Q1000,560 1250,440 M800,650 Q1100,560 1400,500 M760,620 Q1050,560 1330,460" stroke-width="2.2"/>
<path d="M130,280 L290,170 L470,140 L540,115 L580,140 L560,210 L490,230 L350,260 L340,290 L150,300 Z" stroke-width="2.6"/>
<path d="M580,130 Q800,120 950,190 Q1150,300 1300,400 Q1400,470 1500,520 Q1600,530 1700,490 M580,185 Q780,170 950,250 Q1150,360 1250,440 L1420,520" stroke-width="2.4"/>
<path d="M1350,410 L1550,380 L1640,345 M1380,430 L1600,400 L1730,345 M1480,450 L1750,420 M1500,480 L1720,440" stroke-width="2"/>
</g>
<!-- 557_627.svg --><g transform="translate(1980 700) scale(0.096618)"><path d="M1075,250 L1150,185 L1280,185 L1370,240 L1420,230 L1520,215 L1525,280 L1630,290 L1640,380 L1680,450 L1680,520 L1460,590 L1450,680 L1400,700 L1390,770 L1290,775 L1200,720 L1150,715 L1130,650 L1075,620 Z" stroke-width="3"/>
<path d="M1100,270 L1260,380 L1390,390 L1440,340 M1215,230 L1400,360 M1390,390 L1390,640 M1285,400 L1285,480 M1270,580 L1275,680 M1100,300 L1100,610" stroke-width="2"/>
<circle cx="1180" cy="555" r="45" stroke-width="2.4"/>
<path d="M1400,265 L1515,240 M1480,340 L1630,305 M1480,400 L1630,370 M1490,460 L1680,440 M1470,520 L1670,480" stroke-width="2.2"/>
<path d="M1190,720 L1190,1050 Q1180,1090 1150,1100 L560,1255 L550,1300 L660,1400 L1180,1250 Q1270,1210 1300,1170 Q1345,1110 1350,1050 L1350,780" stroke-width="3"/>
<path d="M1300,790 L1300,1040 M590,1280 L660,1350 M720,1330 L1150,1210 M1220,1100 L1230,1080 M1250,1150 L1290,1110" stroke-width="1.8"/>
<path d="M95,1330 L160,1300 L250,1310 L400,1420 L410,1580 L350,1620 L300,1620 L150,1530 L100,1470 Z" stroke-width="3"/>
<path d="M140,1340 L360,1460 L395,1450 M160,1410 L170,1470 L300,1560 L360,1540 M210,1440 L290,1490 M300,1560 L300,1620" stroke-width="1.8"/>
</g>
<!-- 71_screw.svg --><g transform="translate(840 380) scale(0.193237)"><path d="M775,605 Q770,580 815,578 Q860,582 858,605 L858,635 Q815,652 775,635 Z" stroke-width="2.4"/>
<path d="M790,598 L840,590 M795,612 L835,604 M775,612 Q815,625 858,612" stroke-width="1.6"/>
<path d="M790,645 L792,780 Q812,792 835,782 L838,645" stroke-width="2.4"/>
<path d="M793,680 L835,672 M793,705 L835,697 M793,730 L835,722 M793,755 L835,747" stroke-width="1.4"/>
</g>
<!-- 72_panel.svg --><g transform="translate(0 0) scale(1.000000)"><path d="M1236.1,476.8 L1256.4,487.9 L1276.7,499.2 L1297.0,510.7 L1317.3,522.3 L1337.6,534.2 L1357.9,546.3 L1378.2,558.5 L1398.6,570.9 L1418.9,583.6 L1439.2,596.4 L1459.5,609.4 L1479.8,622.6 L1500.1,636.0 L1520.4,649.6 L1540.7,663.4 L1561.0,677.4 L1581.3,691.6 L1601.6,706.0 L1621.9,720.5 L1642.2,735.3 L1662.5,750.2 L1682.9,765.4 L1703.2,780.7 L1723.5,796.2 L1743.8,812.0 L1764.1,827.9 L1784.4,844.0 L1804.7,860.3 L1825.0,876.8 L1826.9,879.3 L1822.2,895.0 L1828.0,900.0 L1828.6,1052.9 L1825.4,1055.3 L1818.9,1055.3 L1754.5,1011.0 L1741.6,1011.0 L1727.1,1002.2 L1715.9,1003.0 L1709.4,996.5 L1709.4,988.5 L1562.0,888.6 L1545.0,886.8 L1543.2,875.5 L1545.1,869.9 L1501.1,835.5 L1487.0,832.0 L1348.8,743.4 L1345.6,742.1 L1345.6,727.6 L1342.4,724.4 L1332.7,726.0 L1324.7,730.1 L1313.4,729.3 L1305.3,722.8 L1305.3,714.8 L1294.0,706.7 L1294.0,698.7 L1232.9,659.2 L1232.9,651.2 L1237.7,650.4 L1237.7,505.4 L1236.1,504.6 L1230.5,502.2 L1229.7,495.8 Z" stroke-width="4.2"/>
<path d="M1232.0,497.0 L1297.0,526.7 L1317.3,538.3 L1337.6,550.2 L1357.9,562.3 L1378.2,574.5 L1398.6,586.9 L1418.9,599.6 L1439.2,612.4 L1459.5,625.4 L1479.8,638.6 L1500.1,652.0 L1520.4,665.6 L1540.7,679.4 L1561.0,693.4 L1581.3,707.6 L1601.6,722.0 L1621.9,736.5 L1642.2,751.3 L1662.5,766.2 L1682.9,781.4 L1703.2,796.7 L1723.5,812.2 L1743.8,828.0 L1764.1,843.9 L1784.4,860.0 L1816.0,889.0" stroke-width="1.8"/>
<path d="M1237.0,504.0 L1297.0,532.2 L1317.3,543.8 L1337.6,555.7 L1357.9,567.8 L1378.2,580.0 L1398.6,592.4 L1418.9,605.1 L1439.2,617.9 L1459.5,630.9 L1479.8,644.1 L1500.1,657.5 L1520.4,671.1 L1540.7,684.9 L1561.0,698.9 L1581.3,713.1 L1601.6,727.5 L1621.9,742.0 L1642.2,756.8 L1662.5,771.7 L1682.9,786.9 L1703.2,802.2 L1723.5,817.7 L1743.8,833.5 L1764.1,849.4 L1784.4,865.5 L1820.0,894.0" stroke-width="1.8"/>
<path d="M1290.9,511.9 L1288.4,523.1" stroke-width="2.2"/>
<path d="M1410.8,582.7 L1407.6,594.0" stroke-width="2.2"/>
<path d="M1528.2,661.3 L1526.3,672.6" stroke-width="2.2"/>
<path d="M1647.5,745.9 L1644.7,755.3" stroke-width="2.2"/>
<path d="M1765.8,834.2 L1763.0,845.4" stroke-width="2.2"/>
<ellipse cx="1245" cy="493.3" rx="3.3" ry="5.5" transform="rotate(15 1245 493.3)" stroke-width="1.8"/>
<ellipse cx="1372.2" cy="566.6" rx="3.3" ry="5.5" transform="rotate(15 1372.2 566.6)" stroke-width="1.8"/>
<ellipse cx="1682.2" cy="776.9" rx="3.3" ry="5.5" transform="rotate(15 1682.2 776.9)" stroke-width="1.8"/>
<ellipse cx="1810" cy="877.4" rx="3.3" ry="5.5" transform="rotate(15 1810 877.4)" stroke-width="1.8"/>
<ellipse cx="1248.2" cy="514.3" rx="2.5" ry="3.5" stroke-width="1.6"/>
<ellipse cx="1248.2" cy="617.3" rx="2.5" ry="3.5" stroke-width="1.6"/>
<ellipse cx="1381" cy="718" rx="2.5" ry="3.5" stroke-width="1.6"/>
<ellipse cx="1745.2" cy="883" rx="2.2" ry="3.08" stroke-width="1.6"/>
<ellipse cx="1771.4" cy="928.9" rx="2.2" ry="3.08" stroke-width="1.6"/>
<ellipse cx="1817.3" cy="1004.6" rx="2.5" ry="3.5" stroke-width="1.6"/>
<ellipse cx="1719" cy="995.7" rx="2.8" ry="3.9199999999999995" stroke-width="1.6"/>
<ellipse cx="1727.9" cy="871.7" rx="3.5" ry="4.8999999999999995" stroke-width="1.6"/>
<circle cx="1363.3" cy="714" r="2.8" fill="#000"/>
<path d="M1253.8,562.6 L1267.5,571.4 L1267.5,600.4 L1253.8,590.0 Z" stroke-width="1.8"/>
<path d="M1257.8,569.8 L1257.8,591.6" stroke-width="1.6"/>
<path d="M1343.2,589.2 L1356.6,597.2 L1356.6,626.2 L1343.2,618.1 Z" stroke-width="1.8"/>
<path d="M1345.6,597.2 L1345.6,619.8" stroke-width="1.6"/>
<path d="M1345.6,597.2 L1356.6,599.0" stroke-width="1.6"/>
<path d="M1745.7,949.0 L1762.6,961.1 L1762.6,978.8 L1745.7,967.6 Z" stroke-width="1.8"/>
<rect x="1436" y="663" width="5.5" height="14" fill="#000"/>
<path d="M1471.0,688.0 L1476.0,690.0 L1476.0,701.0 L1471.0,699.0" stroke-width="1.8"/>
<path d="M1375.0,694.0 L1375.0,704.0" stroke-width="1.6"/>
<path d="M1386.0,699.0 L1386.0,710.0" stroke-width="1.6"/>
<path d="M1350.6,743.4 L1350.6,651.3" stroke-width="1.6"/><path d="M1350.6,651.3 Q1352,636 1366.5,637.1 L1479.9,711.5 Q1494,720 1494,729.2 L1494,828.4" stroke-width="1.6"/>
<path d="M1352.3,656.6 Q1356,648 1362,650 L1476.3,732.8 Q1487,738 1487,743.4 L1487,750" stroke-width="1.6"/>
<path d="M1504.7,743.4 L1506.4,828.4" stroke-width="1.5"/>
<path d="M1420,748 Q1428,732 1440,745 Q1447,760 1445,784 Q1432,790 1420,776 Z" stroke-width="1.7"/>
<path d="M1457,773 Q1466,758 1477,770 Q1483,785 1481,809 Q1468,815 1458,800 Z" stroke-width="1.7"/>
<path d="M1242.5,654.1 L1286.8,683.2" stroke-width="1.6"/>
<path d="M1302.7,695.6 L1345.3,722.2" stroke-width="1.6"/>
<path d="M1511.8,837.3 L1554.3,863.9" stroke-width="1.6"/>
<path d="M1583.8,885.4 L1692.5,960.3" stroke-width="1.6"/>
<path d="M1715.9,975.6 L1724.7,981.2" stroke-width="1.6"/>
<path d="M1740.8,991.7 L1822.1,1047.3" stroke-width="1.6"/>
<path d="M1594.9,765.8 L1594.9,832.3 Q1600.1,834.3 1605.2,832.3 L1605.2,767.8" stroke-width="2.2"/>
<path d="M1595.9,765.8 Q1598.9,761.8 1600.9,763.8 Q1603.9,764.8 1601.9,766.8" stroke-width="1.6"/>
<path d="M1607.8,774.5 L1607.8,841.0 Q1612.9,843.0 1618.0,841.0 L1618.0,776.5" stroke-width="2.2"/>
<path d="M1608.8,774.5 Q1611.8,770.5 1613.8,772.5 Q1616.8,773.5 1614.8,775.5" stroke-width="1.6"/>
<path d="M1620.6,783.3 L1620.6,849.8 Q1625.8,851.8 1630.9,849.8 L1630.9,785.3" stroke-width="2.2"/>
<path d="M1621.6,783.3 Q1624.6,779.3 1626.6,781.3 Q1629.6,782.3 1627.6,784.3" stroke-width="1.6"/>
<path d="M1633.5,792.0 L1633.5,858.5 Q1638.6,860.5 1643.8,858.5 L1643.8,794.0" stroke-width="2.2"/>
<path d="M1634.5,792.0 Q1637.5,788.0 1639.5,790.0 Q1642.5,791.0 1640.5,793.0" stroke-width="1.6"/>
<path d="M1646.3,800.8 L1646.3,867.3 Q1651.5,869.3 1656.6,867.3 L1656.6,802.8" stroke-width="2.2"/>
<path d="M1647.3,800.8 Q1650.3,796.8 1652.3,798.8 Q1655.3,799.8 1653.3,801.8" stroke-width="1.6"/>
<path d="M1659.2,809.5 L1659.2,876.0 Q1664.3,878.0 1669.5,876.0 L1669.5,811.5" stroke-width="2.2"/>
<path d="M1660.2,809.5 Q1663.2,805.5 1665.2,807.5 Q1668.2,808.5 1666.2,810.5" stroke-width="1.6"/>
<path d="M1672.0,818.2 L1672.0,884.7 Q1677.2,886.7 1682.3,884.7 L1682.3,820.2" stroke-width="2.2"/>
<path d="M1673.0,818.2 Q1676.0,814.2 1678.0,816.2 Q1681.0,817.2 1679.0,819.2" stroke-width="1.6"/>
<path d="M1684.9,827.0 L1684.9,893.5 Q1690.0,895.5 1695.2,893.5 L1695.2,829.0" stroke-width="2.2"/>
<path d="M1685.9,827.0 Q1688.9,823.0 1690.9,825.0 Q1693.9,826.0 1691.9,828.0" stroke-width="1.6"/>
<path d="M1697.7,835.7 L1697.7,902.2 Q1702.9,904.2 1708.0,902.2 L1708.0,837.7" stroke-width="2.2"/>
<path d="M1698.7,835.7 Q1701.7,831.7 1703.7,833.7 Q1706.7,834.7 1704.7,836.7" stroke-width="1.6"/></g>
<!-- 803_790.svg --><g transform="translate(1015 1460) scale(0.161031)"><path d="M70,820 L70,730 Q100,620 280,578 L930,572 L965,640 L905,760 L900,810 L850,870 Q800,920 780,1000 L770,1180 L735,1195 Z" stroke-width="3"/>
<path d="M200,680 L680,960 M950,640 Q870,760 785,920 L760,1000 L750,1180" stroke-width="1.7"/>
<ellipse cx="765" cy="655" rx="35" ry="18" stroke-width="2.2"/>
<path d="M550,570 L560,545 L470,500 L470,460 L620,385 L730,445 L745,565" stroke-width="2.6"/>
<ellipse cx="590" cy="455" rx="20" ry="12" stroke-width="2"/>
<path d="M600,525 L700,470 M860,620 L880,590 L940,590" stroke-width="1.7"/>
<path d="M950,570 L1440,285 Q1500,280 1525,350 Q1530,390 1500,400 L1110,645 Q1020,700 990,680 Q950,640 950,570 Z" stroke-width="3" fill="#fff"/>
<path d="M970,550 Q1025,605 1015,680 M1002,532 Q1058,587 1048,662 M1035,513 Q1090,568 1080,643 M1068,495 Q1122,550 1112,625 M1100,477 Q1155,532 1145,607 M1132,458 Q1188,513 1178,588 M1165,440 Q1220,495 1210,570 M1198,422 Q1252,477 1242,552 M1230,403 Q1285,458 1275,533 M1262,385 Q1318,440 1308,515 M1295,367 Q1350,422 1340,497 M1328,348 Q1382,403 1372,478 M1360,330 Q1415,385 1405,460" stroke-width="2"/>
<path d="M1330,350 Q1400,390 1390,480" stroke-width="1.8"/>
<path d="M930,740 L1080,665 L1180,700 L1180,740 L1050,815 L1000,810 L930,770 Z" stroke-width="2.6" fill="#fff"/>
<ellipse cx="1065" cy="725" rx="20" ry="12" stroke-width="2"/>
<path d="M900,760 L930,740 M905,810 L960,800" stroke-width="1.8"/>
<ellipse cx="1700" cy="195" rx="48" ry="72" stroke-width="2.4"/>
<ellipse cx="1745" cy="180" rx="45" ry="58" stroke-width="2.4"/>
<path d="M1660,265 L1660,330 M1700,265 L1700,300 M1735,250 Q1760,300 1770,350 M1765,235 L1780,300" stroke-width="2.4"/></g>
<!-- 805_valve.svg --><g transform="translate(1320 1100) scale(0.096618)"><path d="M100,560 Q110,500 160,500 L270,500 L310,520 L400,500 L410,420 L580,370 L770,430 Q820,480 830,540 L840,640 L1070,630 L1240,740 L1250,800 L1350,870 L1360,920 L1300,960 L1390,980 L1480,1010 L1560,990 Q1640,1030 1660,1150 Q1670,1280 1600,1340 L1490,1360 L1490,1490 L1420,1520 L1450,1580 Q1470,1700 1400,1750 L1320,1760 Q1220,1730 1170,1650 L1020,1580 L980,1510 L650,1640 L500,1660 Q390,1650 375,1560 Q380,1460 420,1430 L620,1300 L580,1260 L500,1220 L440,1130 L430,1050 L400,980 L300,900 L230,820 Z" stroke-width="3.6"/>
<path d="M410,460 L580,410 L770,440 M600,560 L810,580 M620,580 L630,920 M420,540 L600,600 M810,560 L810,900 L640,930 L420,880 M420,700 L600,650 M420,890 L420,1040 L560,1070 L700,1040 L800,1080" stroke-width="2"/>
<path d="M250,620 L420,580 L430,640 L300,700 Z" stroke-width="2.6"/>
<circle cx="420" cy="600" r="20" fill="#000"/>
<path d="M840,740 L1050,690 L1230,770 M840,740 L840,1090 L960,1200 L1010,1200 L1010,890 L1230,800 M1010,890 L860,780 M1020,900 L1200,860 L1350,900 M1020,900 L1160,1000 L1300,960" stroke-width="2"/>
<path d="M960,720 L1090,710 L1090,780 L960,790 Z" stroke-width="2"/>
<path d="M560,1380 L1000,1220 M600,1430 L990,1290 M640,1480 L980,1330 M650,1640 L980,1510" stroke-width="1.8"/>
<circle cx="505" cy="1475" r="22" stroke-width="2.2"/>
<ellipse cx="1570" cy="1170" rx="85" ry="170" transform="rotate(-12 1570 1170)" stroke-width="2.6"/>
<path d="M1420,1070 L1450,1330 M1470,1060 L1490,1330 M1510,1050 L1530,1320 M1260,1060 L1280,1400 M1230,1050 L1460,1040" stroke-width="2"/>
<path d="M1230,1360 L1330,1370 L1400,1500 L1300,1470 Z" fill="#000" stroke-width="2"/>
<ellipse cx="1335" cy="1640" rx="105" ry="118" stroke-width="2.8"/>
<path d="M1380,1590 Q1310,1590 1310,1650 Q1320,1700 1380,1690" stroke-width="2.6"/>
<path d="M1090,1480 Q1140,1430 1220,1450 M1050,1350 L1050,1580" stroke-width="1.8"/>
<path d="M1255,300 L1540,130 L1780,270 L1780,390 L1500,530 L1420,500 L1420,460 L1350,450 L1260,400 Z" stroke-width="2.4"/>
<path d="M1255,300 L1500,420 L1780,270 M1500,420 L1500,530 M1300,320 L1300,420 M1330,330 L1330,430 M1420,460 L1420,400 M1460,380 L1560,330 M1520,200 L1700,280 M1440,290 L1500,300" stroke-width="1.6"/>
</g>
<!-- 807_washers.svg --><g transform="translate(0 0) scale(1.000000)"><ellipse cx="1622" cy="647.3" rx="14" ry="16" transform="rotate(-10 1622 647.3)" stroke-width="3.2"/>
<ellipse cx="1622" cy="647.3" rx="10" ry="12" transform="rotate(-10 1622 647.3)" stroke-width="1.6"/>
<path d="M1618,641 Q1614,650 1620,656 Q1626,652 1624,644" stroke-width="1.4"/>
<ellipse cx="1680.2" cy="688" rx="14" ry="16" transform="rotate(-10 1680.2 688)" stroke-width="3.2"/>
<ellipse cx="1680.2" cy="688" rx="10" ry="12" transform="rotate(-10 1680.2 688)" stroke-width="1.6"/>
<path d="M1676,682 Q1672,691 1678,697 Q1684,693 1682,685" stroke-width="1.4"/>
<path d="M1580,661.8 L1591.3,657.6 M1647.7,639.3 L1668.6,634.4 M1638,702 L1647.6,698.8 M1707.2,681.1 L1729.8,673.7" stroke-width="2"/>
</g>
<!-- 808_hoses.svg --><g transform="translate(1680 560) scale(0.161031)"><path d="M350,225 Q450,195 560,165 L800,100 Q890,85 990,135 Q1100,200 1210,360" stroke-width="3.6"/>
<path d="M300,430 L480,380 L700,310 Q800,275 880,282 Q960,300 1020,380" stroke-width="3.6"/>
<path d="M1085,580 Q1110,750 1130,900 Q1160,1080 1190,1190 Q1240,1230 1330,1200 L1380,1180 L1320,850 L1265,595" stroke-width="3.6"/>
<path d="M1280,1160 Q1330,1140 1385,1180 Q1370,1220 1310,1215 Z" fill="#000" stroke-width="2"/>
<path d="M280,280 Q200,250 110,270 Q20,300 20,400 Q25,500 110,520 Q200,520 290,450 Z" stroke-width="3" fill="#fff"/>
<ellipse cx="105" cy="395" rx="80" ry="118" transform="rotate(-8 105 395)" stroke-width="2.6"/>
<ellipse cx="110" cy="400" rx="52" ry="82" transform="rotate(-8 110 400)" stroke-width="6"/>
<path d="M90,360 L140,350 M80,400 L135,380 M95,440 L130,420" stroke-width="3.6"/>
<path d="M200,285 L215,470 M225,280 L240,460 M250,278 L265,450 M275,276 L288,440" stroke-width="2"/>
<path d="M285,270 L420,255 Q440,300 440,380 L300,430 M330,300 L400,290 M330,340 L400,330 M330,380 L400,365 M330,300 L330,380" stroke-width="2"/>
<path d="M440,380 Q445,320 430,258" stroke-width="1.8"/>
<text transform="translate(455 300) rotate(-16)" font-size="62" font-family="Liberation Mono" letter-spacing="14" stroke="none" fill="#000">-HOT-</text>
<path d="M680,500 L900,440 Q1050,390 1200,365 Q1300,370 1400,440 Q1500,540 1560,650 L1620,800 L1700,1000 L1780,1150 L1830,1230" stroke-width="3.6"/>
<path d="M760,660 L950,600 Q1100,545 1220,550 Q1320,570 1380,660 Q1420,720 1450,800 L1530,980 L1600,1150 L1680,1320 Q1750,1335 1830,1270" stroke-width="3.6"/>
<path d="M1740,1300 Q1790,1240 1835,1260 Q1830,1300 1780,1320 Z" fill="#000" stroke-width="2"/>
<path d="M650,520 Q560,500 470,520 Q385,560 385,650 Q390,760 480,770 Q570,760 655,690 Z" stroke-width="3" fill="#fff"/>
<ellipse cx="470" cy="645" rx="80" ry="115" transform="rotate(-8 470 645)" stroke-width="2.6"/>
<ellipse cx="480" cy="645" rx="48" ry="75" transform="rotate(-8 480 645)" stroke-width="5"/>
<ellipse cx="470" cy="650" rx="30" ry="50" transform="rotate(-8 470 650)" stroke-width="2"/>
<path d="M565,545 L580,735 M590,540 L605,720 M615,535 L628,705 M638,530 L650,690" stroke-width="2"/>
<path d="M650,520 L740,505 Q770,560 775,650 L655,690 M680,560 L740,550 M680,600 L745,590 M685,640 L750,628" stroke-width="2"/>
<text transform="translate(815 585) rotate(-16)" font-size="66" font-family="Liberation Mono" letter-spacing="12" stroke="none" fill="#000">-COLD-</text>
<path d="M790,620 L870,600 M480,360 L690,300" stroke-width="1.6"/>
</g>
<!-- 811_hose.svg --><g transform="translate(870 630) scale(0.161031)"><path d="M55,70 C150,130 300,170 450,185 C600,200 750,215 850,235 C980,262 1080,300 1150,345" stroke-width="3"/>
<path d="M75,205 C150,240 300,270 500,290 C650,305 780,325 870,350 C960,378 1040,420 1105,465" stroke-width="3"/>
<ellipse cx="1130" cy="410" rx="45" ry="62" transform="rotate(30 1130 410)" stroke-width="2.6"/>
<ellipse cx="1130" cy="410" rx="28" ry="40" transform="rotate(30 1130 410)" stroke-width="1.6"/>
<path d="M1120,430 L1140,390" stroke-width="1.6"/>
</g>
<!-- 935_wire.svg --><g transform="translate(1870 1340) scale(0.080515)"><path d="M190,470 L330,425 L500,385 L590,355 L630,380 L620,450 L480,520 L300,560 L200,530 Z" stroke-width="2.6"/>
<path d="M230,490 L370,470 M400,420 L400,500 M540,380 L550,470" stroke-width="1.6"/>
<path d="M630,370 Q750,350 850,355 Q1000,370 1150,460 Q1300,560 1450,640 Q1600,720 1700,750" stroke-width="2.4"/>
<path d="M630,430 Q750,405 850,410 Q980,430 1100,500 Q1250,600 1400,690 Q1480,740 1560,750" stroke-width="2.4"/>
</g>
<!-- 9_8_7_6.svg --><g transform="translate(320 1440) scale(0.123457)"><path d="M400,390 L395,160 Q420,75 480,75 Q555,110 560,190 L562,430 Q540,460 500,450 L465,410 L465,380 L430,400 Z" stroke-width="3"/>
<path d="M430,370 L430,170 Q450,135 490,150 Q515,180 515,240 L515,410 M540,250 L540,420" stroke-width="2"/>
<path d="M100,850 Q105,780 140,765 L240,740 Q270,700 320,685 L370,675 Q450,700 510,780 Q545,860 540,950 Q525,1040 470,1070 L380,1090 L300,1100 L200,1115 Q140,1110 115,1060 Q100,980 100,850 Z" stroke-width="3"/>
<path d="M370,700 Q470,760 490,880 Q500,1000 430,1080 M350,720 L355,1090 M180,790 L200,1100" stroke-width="2"/>
<ellipse cx="262" cy="920" rx="38" ry="80" stroke-width="2.2"/>
<path d="M615,835 L780,782" stroke-width="1.8" stroke-dasharray="60 14"/>
<ellipse cx="1060" cy="688" rx="268" ry="305" stroke-width="3.4"/>
<path d="M1130,420 Q1230,480 1270,570 M1285,630 Q1300,780 1280,900" stroke-width="1.8"/>
<ellipse cx="1030" cy="710" rx="92" ry="122" stroke-width="2.2"/>
<ellipse cx="1045" cy="700" rx="52" ry="65" stroke-width="2.6"/>
<path d="M1010,720 L1080,680 M1020,690 L1070,740" stroke-width="1.8"/>
<path d="M1045,420 L1075,530 L1015,530 Z" fill="#000" stroke-width="2"/>
<ellipse cx="1560" cy="555" rx="100" ry="110" stroke-width="3.2"/>
<ellipse cx="1555" cy="560" rx="70" ry="82" stroke-width="1.8"/>
<path d="M1520,520 Q1560,490 1580,530 Q1560,560 1530,560 Q1580,580 1560,620 Q1530,630 1510,600" stroke-width="2.2"/>
<path d="M1370,610 L1450,585 M1700,520 L1770,492" stroke-width="2.2"/>
</g>
<!-- ns_bracket.svg --><g transform="translate(0 0) scale(1.000000)"><path d="M1074.4,1222.3 L1081.2,1219.8 L1113.9,1220.3 L1177.4,1223.2 L1211.8,1227.5 L1258.1,1233.5 L1289.1,1239.5 L1289.1,1245.5 L1306.2,1251.5 L1337.1,1273.9 L1340.6,1285.9 L1340,1288.7 L1473.8,1382.3 L1496.7,1386.1 L1506.3,1391.9 L1632.4,1479.8 L1634.3,1482.7 L1657.3,1482.7 L1663,1488.4 L1664,1508.5 L1645.8,1512.3 L1642,1516.1 L1624.8,1600.2 L1626.7,1604 L1647.7,1619.3 L1648.7,1627 L1621,1634.6 L1596.1,1615.5 L1594.2,1581.1 L1588.5,1575.4 L1575.1,1565.8 L1569.4,1568.7 L1580.8,1554.3 L1586.6,1548.6 L1577,1544.8 L1556,1552.4 L1552.2,1562 L1540.7,1544.8 L1536.9,1539 L1531.1,1546.7 L1527.3,1546.7 L1340,1418.6 L1211.8,1327.1 L1143.1,1284.2 L1129.3,1275.6 L1129.3,1267 L1133.6,1261.8" stroke-width="3.9"/>
<path d="M1074.4,1222.3 L1073.5,1228.3 L1052,1235.2 L1050.3,1242.9 L1072.6,1257.5 L1100.1,1249.8 L1136.2,1242.9 L1138.8,1237.8 L1131,1236.1 L1083.5,1229.2" stroke-width="2.6"/>
<path d="M1083.5,1229.2 L1076.1,1249.8 M1083.5,1230 L1098.4,1242.9 L1101.8,1249.8 M1053.7,1241.2 L1074.4,1251.5 M1108,1238 L1125,1237" stroke-width="1.8"/>
<circle cx="1071" cy="1240.4" r="4.5" stroke-width="2"/>
<circle cx="1115.6" cy="1255" r="5" stroke-width="2.2"/>
<path d="M1118,1259 L1133,1262" stroke-width="2.2"/>
<path d="M1141.3,1269.6 L1320,1394.1 M1345.7,1411 L1528.3,1535.2" stroke-width="1.5"/>
<path d="M1340,1296.3 L1447,1384.2 M1340,1309.7 L1441.3,1384.2 L1473.8,1384" stroke-width="1.5"/>
<path d="M1335.4,1289.3 L1338,1310 L1360,1325.4 M1340.6,1285.9 L1341,1292" stroke-width="1.5"/>
<path d="M1632.4,1498.9 Q1625,1560 1601.8,1606 M1636.3,1508.5 Q1632,1545 1624.8,1569.6 M1569.4,1568.7 L1594.2,1581.1 M1588,1574 L1594,1610" stroke-width="1.4"/>
<path d="M1289.1,1239.5 L1306.2,1244 L1306.2,1251.5" stroke-width="1.5"/>
<circle cx="1651.5" cy="1496" r="4" fill="#000"/>
<ellipse cx="1622.9" cy="1617.4" rx="5" ry="2.8" stroke-width="1.6"/>
<ellipse cx="1323.7" cy="1279.2" rx="3" ry="2" stroke-width="1.6"/>
<ellipse cx="1351" cy="1333" rx="2.5" ry="2.5" stroke-width="1.6"/>
<ellipse cx="1359.1" cy="1361" rx="4" ry="2.5" stroke-width="1.6"/>
<ellipse cx="1425.8" cy="1406.4" rx="4" ry="2.5" stroke-width="1.6"/>
</g>
<!-- screws.svg --><g transform="translate(0 0) scale(1.000000)"><ellipse cx="968.6" cy="1030.4" rx="7.2" ry="8.2" stroke-width="2.6"/>
<path d="M961,1029 L951.8,1033.3 L951.5,1037.5 L958.8,1038.4 L966,1036" stroke-width="2.4"/>
<path d="M954,1036 L963,1031 M964,1027 Q970,1027 969,1032" stroke-width="1.6"/>
<ellipse cx="1385.2" cy="500.8" rx="7" ry="8" stroke-width="2.6"/>
<path d="M1378,500 L1368,505 L1367.5,509 L1375,509.5 L1382,506" stroke-width="2.4"/>
<path d="M1370,507 L1379,502 M1381,497 Q1387,497 1386,502" stroke-width="1.6"/>
<ellipse cx="1653.9" cy="1395" rx="6.5" ry="5.5" stroke-width="2.6"/>
<path d="M1650,1400 L1650.5,1414 L1653.9,1420.5 L1657.3,1414 L1657.5,1400" stroke-width="2.2"/>
<path d="M1650.5,1405 L1657.5,1403 M1650.5,1410 L1657.5,1408 M1651,1392 L1657,1398" stroke-width="1.5"/>
<rect x="377" y="2209" width="2.5" height="2.5" fill="#000" stroke="none"/>
<rect x="820" y="2198" width="2" height="2" fill="#000" stroke="none"/>
</g>
</g>
<g fill="none" stroke="#000" stroke-linecap="butt">
<path d="M974,408 L1046,465" stroke-width="3.8"/>
<path d="M893,485 L984,498" stroke-width="3.8"/>
<path d="M1371,441 L1382,485" stroke-width="3.8"/>
<path d="M1618,618.3 L1607.4,534.6 L1670.9,666" stroke-width="3.8"/>
<path d="M1839.4,569 L1870,469 L1890,609.3" stroke-width="3.8"/>
<path d="M2126,646.4 L2112.8,709.2" stroke-width="3.8"/>
<path d="M2022.6,691.5 L2005,813.9" stroke-width="3.8"/>
<path d="M713.4,652.5 L725.7,711.4" stroke-width="3.8"/>
<path d="M957.6,748.1 L1021,700.1" stroke-width="3.8"/>
<path d="M1031.6,795.1 L1062.2,768.4" stroke-width="3.8"/>
<path d="M1454.4,828 L1439,906.7" stroke-width="3.8"/>
<path d="M1463.5,1040.4 L1468.4,1101.5" stroke-width="3.8"/>
<path d="M1358,1085.4 L1367.6,1128" stroke-width="3.8"/>
<path d="M976.9,1035.7 L1001,1059.9" stroke-width="3.8"/>
<path d="M894.8,1140.2 L907.7,1189.1" stroke-width="3.8"/>
<path d="M2125.8,1064.9 L2137,1102.9" stroke-width="3.8"/>
<path d="M1634.9,1175.6 L1654.2,1241.6" stroke-width="3.8"/>
<path d="M1903.9,1167.3 L1923.2,1228.5" stroke-width="3.8"/>
<path d="M234.3,1221 L256.9,1303" stroke-width="3.8"/>
<path d="M179,1254.8 L181.2,1349.2" stroke-width="3.8"/>
<path d="M467.8,1259.6 L449.1,1365.3" stroke-width="3.8"/>
<path d="M1996.3,1336.4 L1973.8,1375" stroke-width="3.8"/>
<path d="M1667.5,1400.5 L1720.6,1412.7" stroke-width="3.8"/>
<path d="M302,1443.6 L360.9,1453.9" stroke-width="3.8"/>
<path d="M269.8,1550 L323.5,1550" stroke-width="3.8"/>
<path d="M483.3,1555.4 L515.5,1597.2" stroke-width="3.8"/>
<path d="M528.4,1524.1 L591.8,1571.5" stroke-width="3.8"/>
<path d="M1306.9,1515.9 L1342,1553.6" stroke-width="3.8"/>
<path d="M1648.8,1568.9 L1746.4,1620.4" stroke-width="3.8"/>
<path d="M1162.6,1614.8 L1215.8,1653.4" stroke-width="3.8"/>
<path d="M625.6,1725.4 L570.9,1750.9" stroke-width="3.8"/>
<path d="M289.8,1948.2 L366.2,1942.6" stroke-width="3.8"/>
</g>
<g>
<text x="947.50" y="414.00" font-size="40" font-weight="bold">3</text>
<text x="853.00" y="494.00" font-size="40" font-weight="bold">7</text>
<path d="M881.10,493.80 L881.10,475.40 L875.10,475.40 L875.10,471.40 L878.90,471.40 L882.30,466.50 L887.00,466.50 L887.00,493.80Z"/>
<path d="M1345.00,433.30 L1345.00,414.90 L1339.00,414.90 L1339.00,410.90 L1342.80,410.90 L1346.20,406.00 L1350.90,406.00 L1350.90,433.30Z"/>
<text x="1351.50" y="433.50" font-size="40" font-weight="bold">5</text>
<path d="M1380.10,433.30 L1380.10,414.90 L1374.10,414.90 L1374.10,410.90 L1377.90,410.90 L1381.30,406.00 L1386.00,406.00 L1386.00,433.30Z"/>
<text x="1840.00" y="462.00" font-size="40" font-weight="bold">8</text>
<text x="1859.50" y="462.00" font-size="40" font-weight="bold">0</text>
<text x="1880.00" y="462.00" font-size="40" font-weight="bold">8</text>
<text x="1576.00" y="527.00" font-size="40" font-weight="bold">8</text>
<text x="1596.00" y="527.00" font-size="40" font-weight="bold">0</text>
<text x="1616.00" y="527.00" font-size="40" font-weight="bold">7</text>
<text x="2097.00" y="639.00" font-size="40" font-weight="bold">5</text>
<text x="2117.00" y="639.00" font-size="40" font-weight="bold">5</text>
<text x="2136.00" y="639.00" font-size="40" font-weight="bold">7</text>
<text x="1992.00" y="682.00" font-size="40" font-weight="bold">6</text>
<text x="2012.00" y="682.00" font-size="40" font-weight="bold">2</text>
<text x="2031.00" y="682.00" font-size="40" font-weight="bold">7</text>
<path d="M699.50,642.80 L699.50,624.40 L693.50,624.40 L693.50,620.40 L697.30,620.40 L700.70,615.50 L705.40,615.50 L705.40,642.80Z"/>
<text x="709.00" y="643.00" font-size="40" font-weight="bold">5</text>
<text x="903.40" y="771.00" font-size="40" font-weight="bold">8</text>
<path d="M931.85,770.80 L931.85,752.40 L925.85,752.40 L925.85,748.40 L929.65,748.40 L933.05,743.50 L937.75,743.50 L937.75,770.80Z"/>
<path d="M945.20,770.80 L945.20,752.40 L939.20,752.40 L939.20,748.40 L943.00,748.40 L946.40,743.50 L951.10,743.50 L951.10,770.80Z"/>
<path d="M995.80,817.80 L995.80,799.40 L989.80,799.40 L989.80,795.40 L993.60,795.40 L997.00,790.50 L1001.70,790.50 L1001.70,817.80Z"/>
<text x="1005.20" y="818.00" font-size="40" font-weight="bold">0</text>
<text x="1414.00" y="941.00" font-size="40" font-weight="bold">7</text>
<text x="1433.50" y="941.00" font-size="40" font-weight="bold">2</text>
<text x="1432.60" y="1031.00" font-size="40" font-weight="bold">4</text>
<text x="1451.55" y="1031.00" font-size="40" font-weight="bold">9</text>
<text x="1469.50" y="1031.00" font-size="40" font-weight="bold">4</text>
<text x="1322.40" y="1076.00" font-size="40" font-weight="bold">8</text>
<text x="1341.20" y="1076.00" font-size="40" font-weight="bold">0</text>
<text x="1361.00" y="1076.00" font-size="40" font-weight="bold">5</text>
<text x="989.50" y="1094.00" font-size="40" font-weight="bold">7</text>
<text x="1008.95" y="1094.00" font-size="40" font-weight="bold">6</text>
<text x="1029.40" y="1094.00" font-size="40" font-weight="bold">9</text>
<path d="M883.80,1130.80 L883.80,1112.40 L877.80,1112.40 L877.80,1108.40 L881.60,1108.40 L885.00,1103.50 L889.70,1103.50 L889.70,1130.80Z"/>
<text x="890.60" y="1131.00" font-size="40" font-weight="bold">4</text>
<text x="2108.00" y="1138.00" font-size="40" font-weight="bold">5</text>
<text x="2127.80" y="1138.00" font-size="40" font-weight="bold">5</text>
<text x="2147.60" y="1138.00" font-size="40" font-weight="bold">6</text>
<path d="M1644.00,1276.80 L1644.00,1258.40 L1638.00,1258.40 L1638.00,1254.40 L1641.80,1254.40 L1645.20,1249.50 L1649.90,1249.50 L1649.90,1276.80Z"/>
<text x="1650.85" y="1277.00" font-size="40" font-weight="bold">0</text>
<text x="1672.80" y="1277.00" font-size="40" font-weight="bold">0</text>
<text x="1921.70" y="1264.00" font-size="40" font-weight="bold">4</text>
<text x="243.00" y="1337.00" font-size="40" font-weight="bold">4</text>
<path d="M270.30,1336.80 L270.30,1318.40 L264.30,1318.40 L264.30,1314.40 L268.10,1314.40 L271.50,1309.50 L276.20,1309.50 L276.20,1336.80Z"/>
<path d="M173.70,1384.80 L173.70,1366.40 L167.70,1366.40 L167.70,1362.40 L171.50,1362.40 L174.90,1357.50 L179.60,1357.50 L179.60,1384.80Z"/>
<text x="182.10" y="1385.00" font-size="40" font-weight="bold">9</text>
<path d="M436.80,1400.80 L436.80,1382.40 L430.80,1382.40 L430.80,1378.40 L434.60,1378.40 L438.00,1373.50 L442.70,1373.50 L442.70,1400.80Z"/>
<text x="445.20" y="1401.00" font-size="40" font-weight="bold">3</text>
<text x="1973.40" y="1328.00" font-size="40" font-weight="bold">9</text>
<text x="1992.85" y="1328.00" font-size="40" font-weight="bold">3</text>
<text x="2012.30" y="1328.00" font-size="40" font-weight="bold">5</text>
<path d="M1733.00,1423.80 L1733.00,1405.40 L1727.00,1405.40 L1727.00,1401.40 L1730.80,1401.40 L1734.20,1396.50 L1738.90,1396.50 L1738.90,1423.80Z"/>
<text x="1739.40" y="1424.00" font-size="40" font-weight="bold">5</text>
<path d="M1767.90,1423.80 L1767.90,1405.40 L1761.90,1405.40 L1761.90,1401.40 L1765.70,1401.40 L1769.10,1396.50 L1773.80,1396.50 L1773.80,1423.80Z"/>
<text x="275.35" y="1454.00" font-size="40" font-weight="bold">9</text>
<text x="242.65" y="1564.00" font-size="40" font-weight="bold">8</text>
<text x="596.95" y="1591.00" font-size="40" font-weight="bold">6</text>
<text x="520.45" y="1630.00" font-size="40" font-weight="bold">7</text>
<text x="1329.70" y="1588.00" font-size="40" font-weight="bold">7</text>
<text x="1350.00" y="1588.00" font-size="40" font-weight="bold">9</text>
<text x="1370.30" y="1588.00" font-size="40" font-weight="bold">0</text>
<text x="1755.4" y="1638.2" font-size="34" textLength="228.7" lengthAdjust="spacing">NOT STOCKED</text>
<text x="1222.80" y="1678.00" font-size="40" font-weight="bold">8</text>
<text x="1242.10" y="1678.00" font-size="40" font-weight="bold">0</text>
<text x="1262.40" y="1678.00" font-size="40" font-weight="bold">3</text>
<text x="631.70" y="1729.00" font-size="40" font-weight="bold">3</text>
<text x="651.30" y="1729.00" font-size="40" font-weight="bold">0</text>
<path d="M376.95,1950.80 L376.95,1932.40 L370.95,1932.40 L370.95,1928.40 L374.75,1928.40 L378.15,1923.50 L382.85,1923.50 L382.85,1950.80Z"/>
<text x="130.4" y="2195.0" font-size="40" font-weight="bold" textLength="667.8" lengthAdjust="spacing">NOTE: HARNESS WIRE WH19X0163</text>
<text x="1828.5" y="2173.0" font-size="33.4" font-weight="bold" textLength="352.0" lengthAdjust="spacing">(ART NO. WH6349 C18)</text>
</g>
</svg>
</body></html>
